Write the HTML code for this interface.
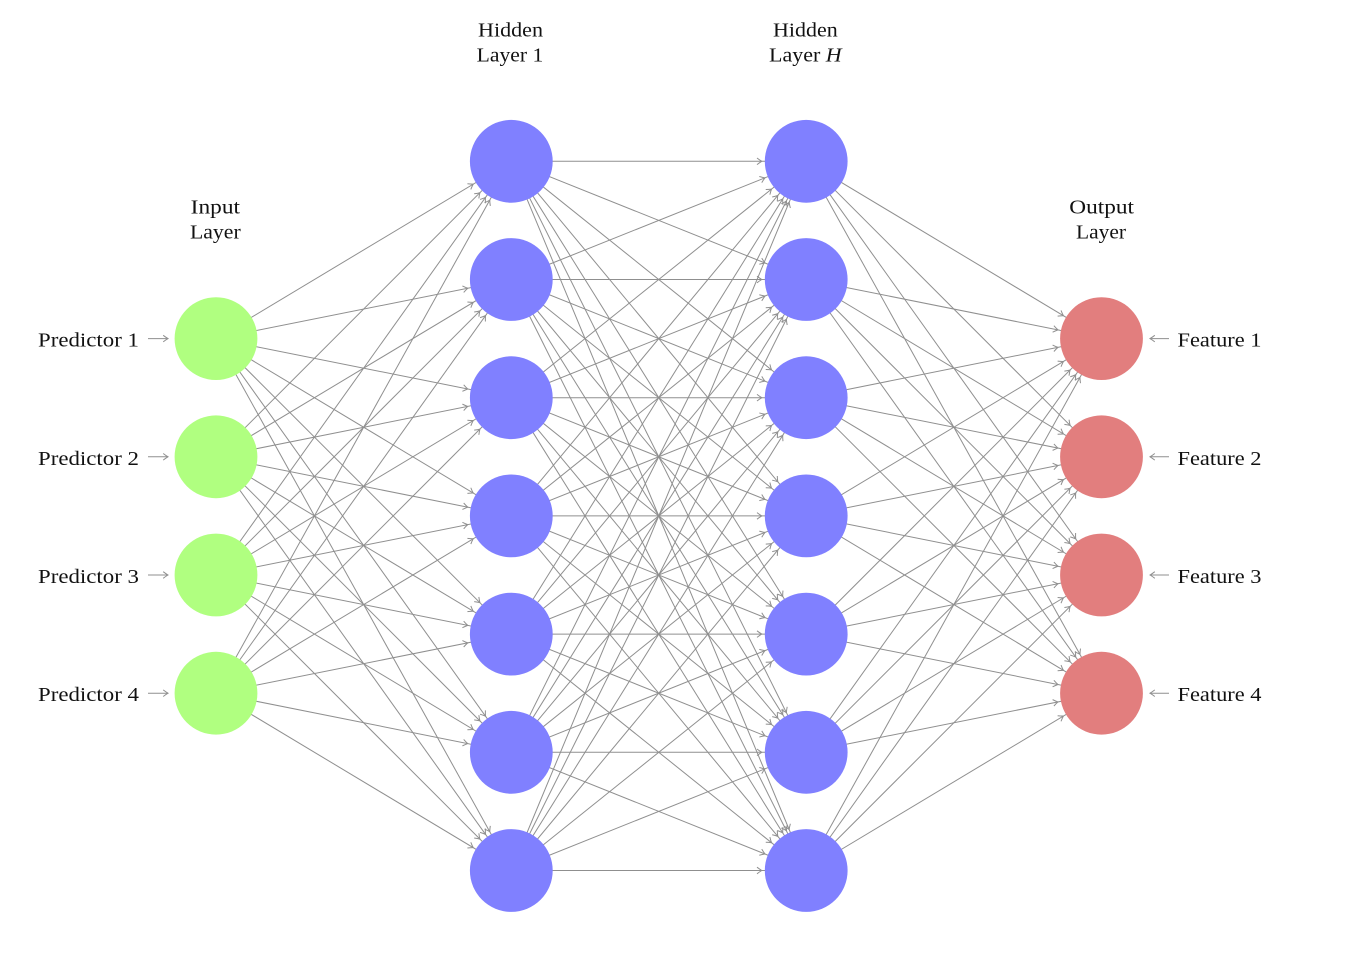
<!DOCTYPE html>
<html>
<head>
<meta charset="utf-8">
<style>
html,body{margin:0;padding:0;background:#fff;}
svg{display:block;}
text{font-family:"Liberation Serif",serif;font-size:20.5px;fill:#111;}
</style>
</head>
<body>
<svg width="1350" height="975" viewBox="0 0 1350 975" xmlns="http://www.w3.org/2000/svg">
<defs>
<marker id="a" markerUnits="userSpaceOnUse" orient="auto" refX="0" refY="0" markerWidth="3" markerHeight="3" overflow="visible">
<path d="M -49.2 -3.3 Q -46.5 -1.2 -44.4 0 Q -46.5 1.2 -49.2 3.3" fill="none" stroke="#8f8f8f" stroke-width="1"/>
</marker>
<marker id="b" markerUnits="userSpaceOnUse" orient="auto" refX="0" refY="0" markerWidth="3" markerHeight="3" overflow="visible">
<path d="M -4.8 -3.3 Q -2.1 -1.2 0 0 Q -2.1 1.2 -4.8 3.3" fill="none" stroke="#8f8f8f" stroke-width="1"/>
</marker>
</defs>

<g stroke="#8f8f8f" stroke-width="1" marker-end="url(#a)">
<line x1="216" y1="338.6" x2="511.3" y2="161.3"/>
<line x1="216" y1="338.6" x2="511.3" y2="279.5"/>
<line x1="216" y1="338.6" x2="511.3" y2="397.7"/>
<line x1="216" y1="338.6" x2="511.3" y2="515.9"/>
<line x1="216" y1="338.6" x2="511.3" y2="634.1"/>
<line x1="216" y1="338.6" x2="511.3" y2="752.3"/>
<line x1="216" y1="338.6" x2="511.3" y2="870.5"/>
<line x1="216" y1="456.8" x2="511.3" y2="161.3"/>
<line x1="216" y1="456.8" x2="511.3" y2="279.5"/>
<line x1="216" y1="456.8" x2="511.3" y2="397.7"/>
<line x1="216" y1="456.8" x2="511.3" y2="515.9"/>
<line x1="216" y1="456.8" x2="511.3" y2="634.1"/>
<line x1="216" y1="456.8" x2="511.3" y2="752.3"/>
<line x1="216" y1="456.8" x2="511.3" y2="870.5"/>
<line x1="216" y1="575" x2="511.3" y2="161.3"/>
<line x1="216" y1="575" x2="511.3" y2="279.5"/>
<line x1="216" y1="575" x2="511.3" y2="397.7"/>
<line x1="216" y1="575" x2="511.3" y2="515.9"/>
<line x1="216" y1="575" x2="511.3" y2="634.1"/>
<line x1="216" y1="575" x2="511.3" y2="752.3"/>
<line x1="216" y1="575" x2="511.3" y2="870.5"/>
<line x1="216" y1="693.2" x2="511.3" y2="161.3"/>
<line x1="216" y1="693.2" x2="511.3" y2="279.5"/>
<line x1="216" y1="693.2" x2="511.3" y2="397.7"/>
<line x1="216" y1="693.2" x2="511.3" y2="515.9"/>
<line x1="216" y1="693.2" x2="511.3" y2="634.1"/>
<line x1="216" y1="693.2" x2="511.3" y2="752.3"/>
<line x1="216" y1="693.2" x2="511.3" y2="870.5"/>

<line x1="511.3" y1="161.3" x2="806.2" y2="161.3"/>
<line x1="511.3" y1="161.3" x2="806.2" y2="279.5"/>
<line x1="511.3" y1="161.3" x2="806.2" y2="397.7"/>
<line x1="511.3" y1="161.3" x2="806.2" y2="515.9"/>
<line x1="511.3" y1="161.3" x2="806.2" y2="634.1"/>
<line x1="511.3" y1="161.3" x2="806.2" y2="752.3"/>
<line x1="511.3" y1="161.3" x2="806.2" y2="870.5"/>
<line x1="511.3" y1="279.5" x2="806.2" y2="161.3"/>
<line x1="511.3" y1="279.5" x2="806.2" y2="279.5"/>
<line x1="511.3" y1="279.5" x2="806.2" y2="397.7"/>
<line x1="511.3" y1="279.5" x2="806.2" y2="515.9"/>
<line x1="511.3" y1="279.5" x2="806.2" y2="634.1"/>
<line x1="511.3" y1="279.5" x2="806.2" y2="752.3"/>
<line x1="511.3" y1="279.5" x2="806.2" y2="870.5"/>
<line x1="511.3" y1="397.7" x2="806.2" y2="161.3"/>
<line x1="511.3" y1="397.7" x2="806.2" y2="279.5"/>
<line x1="511.3" y1="397.7" x2="806.2" y2="397.7"/>
<line x1="511.3" y1="397.7" x2="806.2" y2="515.9"/>
<line x1="511.3" y1="397.7" x2="806.2" y2="634.1"/>
<line x1="511.3" y1="397.7" x2="806.2" y2="752.3"/>
<line x1="511.3" y1="397.7" x2="806.2" y2="870.5"/>
<line x1="511.3" y1="515.9" x2="806.2" y2="161.3"/>
<line x1="511.3" y1="515.9" x2="806.2" y2="279.5"/>
<line x1="511.3" y1="515.9" x2="806.2" y2="397.7"/>
<line x1="511.3" y1="515.9" x2="806.2" y2="515.9"/>
<line x1="511.3" y1="515.9" x2="806.2" y2="634.1"/>
<line x1="511.3" y1="515.9" x2="806.2" y2="752.3"/>
<line x1="511.3" y1="515.9" x2="806.2" y2="870.5"/>
<line x1="511.3" y1="634.1" x2="806.2" y2="161.3"/>
<line x1="511.3" y1="634.1" x2="806.2" y2="279.5"/>
<line x1="511.3" y1="634.1" x2="806.2" y2="397.7"/>
<line x1="511.3" y1="634.1" x2="806.2" y2="515.9"/>
<line x1="511.3" y1="634.1" x2="806.2" y2="634.1"/>
<line x1="511.3" y1="634.1" x2="806.2" y2="752.3"/>
<line x1="511.3" y1="634.1" x2="806.2" y2="870.5"/>
<line x1="511.3" y1="752.3" x2="806.2" y2="161.3"/>
<line x1="511.3" y1="752.3" x2="806.2" y2="279.5"/>
<line x1="511.3" y1="752.3" x2="806.2" y2="397.7"/>
<line x1="511.3" y1="752.3" x2="806.2" y2="515.9"/>
<line x1="511.3" y1="752.3" x2="806.2" y2="634.1"/>
<line x1="511.3" y1="752.3" x2="806.2" y2="752.3"/>
<line x1="511.3" y1="752.3" x2="806.2" y2="870.5"/>
<line x1="511.3" y1="870.5" x2="806.2" y2="161.3"/>
<line x1="511.3" y1="870.5" x2="806.2" y2="279.5"/>
<line x1="511.3" y1="870.5" x2="806.2" y2="397.7"/>
<line x1="511.3" y1="870.5" x2="806.2" y2="515.9"/>
<line x1="511.3" y1="870.5" x2="806.2" y2="634.1"/>
<line x1="511.3" y1="870.5" x2="806.2" y2="752.3"/>
<line x1="511.3" y1="870.5" x2="806.2" y2="870.5"/>

<line x1="806.2" y1="161.3" x2="1101.5" y2="338.6"/>
<line x1="806.2" y1="161.3" x2="1101.5" y2="456.8"/>
<line x1="806.2" y1="161.3" x2="1101.5" y2="575"/>
<line x1="806.2" y1="161.3" x2="1101.5" y2="693.2"/>
<line x1="806.2" y1="279.5" x2="1101.5" y2="338.6"/>
<line x1="806.2" y1="279.5" x2="1101.5" y2="456.8"/>
<line x1="806.2" y1="279.5" x2="1101.5" y2="575"/>
<line x1="806.2" y1="279.5" x2="1101.5" y2="693.2"/>
<line x1="806.2" y1="397.7" x2="1101.5" y2="338.6"/>
<line x1="806.2" y1="397.7" x2="1101.5" y2="456.8"/>
<line x1="806.2" y1="397.7" x2="1101.5" y2="575"/>
<line x1="806.2" y1="397.7" x2="1101.5" y2="693.2"/>
<line x1="806.2" y1="515.9" x2="1101.5" y2="338.6"/>
<line x1="806.2" y1="515.9" x2="1101.5" y2="456.8"/>
<line x1="806.2" y1="515.9" x2="1101.5" y2="575"/>
<line x1="806.2" y1="515.9" x2="1101.5" y2="693.2"/>
<line x1="806.2" y1="634.1" x2="1101.5" y2="338.6"/>
<line x1="806.2" y1="634.1" x2="1101.5" y2="456.8"/>
<line x1="806.2" y1="634.1" x2="1101.5" y2="575"/>
<line x1="806.2" y1="634.1" x2="1101.5" y2="693.2"/>
<line x1="806.2" y1="752.3" x2="1101.5" y2="338.6"/>
<line x1="806.2" y1="752.3" x2="1101.5" y2="456.8"/>
<line x1="806.2" y1="752.3" x2="1101.5" y2="575"/>
<line x1="806.2" y1="752.3" x2="1101.5" y2="693.2"/>
<line x1="806.2" y1="870.5" x2="1101.5" y2="338.6"/>
<line x1="806.2" y1="870.5" x2="1101.5" y2="456.8"/>
<line x1="806.2" y1="870.5" x2="1101.5" y2="575"/>
<line x1="806.2" y1="870.5" x2="1101.5" y2="693.2"/>
</g>

<g stroke="#8f8f8f" stroke-width="1" marker-end="url(#b)">
<line x1="148" y1="338.6" x2="168" y2="338.6"/>
<line x1="148" y1="456.8" x2="168" y2="456.8"/>
<line x1="148" y1="575" x2="168" y2="575"/>
<line x1="148" y1="693.2" x2="168" y2="693.2"/>
<line x1="1169" y1="338.6" x2="1150" y2="338.6"/>
<line x1="1169" y1="456.8" x2="1150" y2="456.8"/>
<line x1="1169" y1="575" x2="1150" y2="575"/>
<line x1="1169" y1="693.2" x2="1150" y2="693.2"/>
</g>

<g fill="#b0ff80">
<circle cx="216" cy="338.6" r="41.4"/>
<circle cx="216" cy="456.8" r="41.4"/>
<circle cx="216" cy="575" r="41.4"/>
<circle cx="216" cy="693.2" r="41.4"/>
</g>
<g fill="#8080ff">
<circle cx="511.3" cy="161.3" r="41.4"/>
<circle cx="511.3" cy="279.5" r="41.4"/>
<circle cx="511.3" cy="397.7" r="41.4"/>
<circle cx="511.3" cy="515.9" r="41.4"/>
<circle cx="511.3" cy="634.1" r="41.4"/>
<circle cx="511.3" cy="752.3" r="41.4"/>
<circle cx="511.3" cy="870.5" r="41.4"/>
<circle cx="806.2" cy="161.3" r="41.4"/>
<circle cx="806.2" cy="279.5" r="41.4"/>
<circle cx="806.2" cy="397.7" r="41.4"/>
<circle cx="806.2" cy="515.9" r="41.4"/>
<circle cx="806.2" cy="634.1" r="41.4"/>
<circle cx="806.2" cy="752.3" r="41.4"/>
<circle cx="806.2" cy="870.5" r="41.4"/>
</g>
<g fill="#e27e7e">
<circle cx="1101.5" cy="338.6" r="41.4"/>
<circle cx="1101.5" cy="456.8" r="41.4"/>
<circle cx="1101.5" cy="575" r="41.4"/>
<circle cx="1101.5" cy="693.2" r="41.4"/>
</g>

<text x="38" y="346.6" textLength="101" lengthAdjust="spacingAndGlyphs">Predictor 1</text>
<text x="38" y="464.8" textLength="101" lengthAdjust="spacingAndGlyphs">Predictor 2</text>
<text x="38" y="583" textLength="101" lengthAdjust="spacingAndGlyphs">Predictor 3</text>
<text x="38" y="701.2" textLength="101" lengthAdjust="spacingAndGlyphs">Predictor 4</text>

<text x="1177.5" y="346.6" textLength="84" lengthAdjust="spacingAndGlyphs">Feature 1</text>
<text x="1177.5" y="464.8" textLength="84" lengthAdjust="spacingAndGlyphs">Feature 2</text>
<text x="1177.5" y="583" textLength="84" lengthAdjust="spacingAndGlyphs">Feature 3</text>
<text x="1177.5" y="701.2" textLength="84" lengthAdjust="spacingAndGlyphs">Feature 4</text>

<text x="190.7" y="213.5" textLength="49.3" lengthAdjust="spacingAndGlyphs">Input</text>
<text x="190" y="238.3" textLength="50.7" lengthAdjust="spacingAndGlyphs">Layer</text>

<text x="478" y="36.7" textLength="65" lengthAdjust="spacingAndGlyphs">Hidden</text>
<text x="476.7" y="61.7" textLength="66.6" lengthAdjust="spacingAndGlyphs">Layer 1</text>

<text x="773" y="36.7" textLength="64.7" lengthAdjust="spacingAndGlyphs">Hidden</text>
<text x="769" y="61.7" textLength="72.7" lengthAdjust="spacingAndGlyphs">Layer <tspan font-style="italic">H</tspan></text>

<text x="1069.3" y="213.5" textLength="64.7" lengthAdjust="spacingAndGlyphs">Output</text>
<text x="1076" y="238.3" textLength="50" lengthAdjust="spacingAndGlyphs">Layer</text>
</svg>
</body>
</html>
